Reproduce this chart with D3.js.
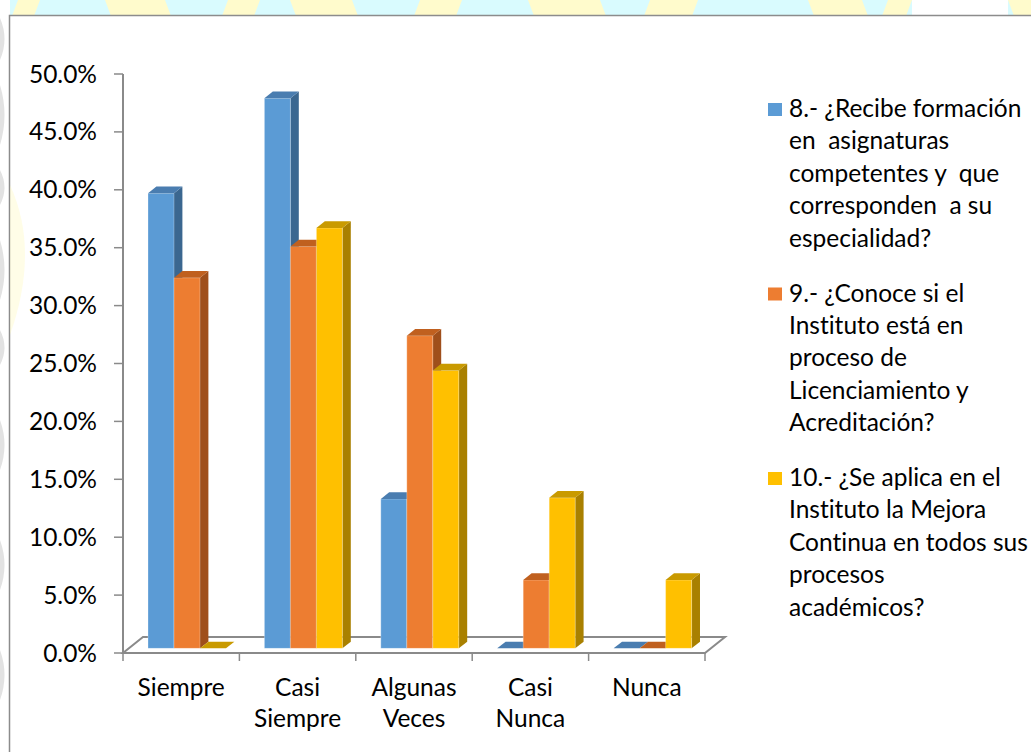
<!DOCTYPE html>
<html>
<head>
<meta charset="utf-8">
<script src="https://cdn.jsdelivr.net/npm/d3@7"></script>
<style>
  html, body { margin: 0; padding: 0; background: #ffffff; }
  svg { display: block; }
  text { font-family: Lato, "Open Sans", sans-serif; fill: #000; white-space: pre;
         font-variant-ligatures: none; font-feature-settings: "liga" 0, "clig" 0; }
</style>
</head>
<body>
<svg id="chart" width="1031" height="752"></svg>
<script>
// ---- data ----
const categories = ["Siempre", "Casi Siempre", "Algunas Veces", "Casi Nunca", "Nunca"];
const categoryLines = [["Siempre"], ["Casi", "Siempre"], ["Algunas", "Veces"], ["Casi", "Nunca"], ["Nunca"]];

const q8Values  = [0.393, 0.475, 0.129, 0.000, 0.000];
const q9Values  = [0.320, 0.347, 0.270, 0.059, 0.000];
const q10Values = [0.000, 0.363, 0.240, 0.130, 0.059];

const q8Lines  = ["8.- ¿Recibe formación", "en  asignaturas", "competentes y  que", "corresponden  a su", "especialidad?"];
const q9Lines  = ["9.- ¿Conoce si el", "Instituto está en", "proceso de", "Licenciamiento y", "Acreditación?"];
const q10Lines = ["10.- ¿Se aplica en el", "Instituto la Mejora", "Continua en todos sus", "procesos", "académicos?"];

const yTicks = [0, 0.05, 0.10, 0.15, 0.20, 0.25, 0.30, 0.35, 0.40, 0.45, 0.50];

const series = [
  { lines: q8Lines,  values: q8Values,  front: "#5b9bd5", top: "#4a7db0", side: "#3b6790" },
  { lines: q9Lines,  values: q9Values,  front: "#ed7d31", top: "#c0601f", side: "#9f4f1b" },
  { lines: q10Lines, values: q10Values, front: "#ffc000", top: "#c99a00", side: "#a98000" }
];

// ---- layout ----
const svg = d3.select("#chart");
const W = 1031, H = 752;
const frameX = 9.5, frameY = 15.5;

// decorative page backdrop around the chart frame
const bg = svg.append("g");
bg.append("rect").attr("x", 0).attr("y", 0).attr("width", W).attr("height", 16).attr("fill", "#d9fbfe");
const yellowBands = [[18, 40], [105, 165], [228, 260], [290, 352], [420, 462], [528, 600], [650, 698], [808, 862], [888, 912], [1008, 1031]];
yellowBands.forEach(([a, b], i) => {
  const s = i % 2 ? 6 : -6;
  bg.append("path")
    .attr("d", `M${a},0 L${b},0 L${b + s},16 L${a + s},16 Z`)
    .attr("fill", "#fffbcc");
});
bg.append("rect").attr("x", 912).attr("y", 0).attr("width", 96).attr("height", 16).attr("fill", "#ffffff");
bg.append("rect").attr("x", 0).attr("y", 0).attr("width", 10).attr("height", H).attr("fill", "#ffffff");
[[18, 60], [85, 145], [170, 205], [240, 300], [330, 365], [420, 470], [540, 590], [650, 700]].forEach(([a, b]) => {
  bg.append("path")
    .attr("d", `M0,${a} Q9,${(a + b) / 2} 0,${b} Z`)
    .attr("fill", "#e2e2e2");
});

// chart frame
svg.append("rect")
  .attr("x", frameX).attr("y", frameY)
  .attr("width", W + 20).attr("height", H + 20)
  .attr("fill", "#ffffff")
  .attr("stroke", "#8c8c8c").attr("stroke-width", 1.5);

// faint tint inside the frame, left edge
svg.append("path")
  .attr("d", "M10,185 Q40,250 10,335 Z")
  .attr("fill", "#fff7b0").attr("opacity", 0.3);

// ---- scales ----
const x = d3.scaleBand().domain(categories).range([123, 705]).paddingInner(0).paddingOuter(0);
const y = d3.scaleLinear().domain([0, 0.5]).range([653, 74]);

// oblique depth projection: z = 0 front of the floor, z = 1 back
const DX = 20, DY = 16;
const P = (px, py, z) => [px + z * DX, py - z * DY];
const poly = pts => "M" + pts.map(p => p.join(",")).join("L") + "Z";

const axisColor = "#8a8a8a";

// floor
const x0 = x.range()[0], x1 = x.range()[1], y0 = y(0);
svg.append("path")
  .attr("d", poly([P(x0, y0, 0), P(x1, y0, 0), P(x1, y0, 1), P(x0, y0, 1)]))
  .attr("fill", "none").attr("stroke", axisColor).attr("stroke-width", 2)
  .attr("stroke-linejoin", "miter");

// value axis
const yAxis = svg.append("g");
yAxis.append("line")
  .attr("x1", x0).attr("x2", x0).attr("y1", y(0.5)).attr("y2", y0)
  .attr("stroke", axisColor).attr("stroke-width", 2);
yAxis.selectAll("line.tick").data(yTicks).enter().append("line")
  .attr("class", "tick")
  .attr("x1", x0 - 9).attr("x2", x0).attr("y1", d => y(d)).attr("y2", d => y(d))
  .attr("stroke", axisColor).attr("stroke-width", 1.5);
const fmt = d3.format(".1%");
yAxis.selectAll("text").data(yTicks).enter().append("text")
  .attr("x", 97).attr("y", d => y(d) + 8.5)
  .attr("text-anchor", "end")
  .attr("font-size", 24.5)
  .text(d => fmt(d));

// category axis ticks
const bounds = categories.map(c => x(c)).concat([x1]);
svg.append("g").selectAll("line").data(bounds).enter().append("line")
  .attr("x1", d => d).attr("x2", d => d).attr("y1", y0).attr("y2", y0 + 8)
  .attr("stroke", axisColor).attr("stroke-width", 1.5);

// category labels
const catG = svg.append("g");
categories.forEach((c, i) => {
  const cx = x(c) + x.bandwidth() / 2;
  categoryLines[i].forEach((ln, k) => {
    catG.append("text")
      .attr("x", cx).attr("y", 696 + k * 31)
      .attr("text-anchor", "middle")
      .attr("font-size", 24.5)
      .text(ln);
  });
});

// ---- bars ----
const groupFrac = 0.67;
const barW = x.bandwidth() * groupFrac / series.length;
const zF = 0.29, zB = 0.71;
const barsG = svg.append("g");
categories.forEach((c, i) => {
  const gx = x(c) + (x.bandwidth() - barW * series.length) / 2;
  series.forEach((s, j) => {
    const v = s.values[i];
    const bx0 = gx + j * barW, bx1 = bx0 + barW;
    const yt = y(v), yb = y(0);
    const g = barsG.append("g");
    if (v > 0) {
      g.append("path")
        .attr("d", poly([P(bx1, yt, zF), P(bx1, yt, zB), P(bx1, yb, zB), P(bx1, yb, zF)]))
        .attr("fill", s.side);
      g.append("path")
        .attr("d", poly([P(bx0, yt, zF), P(bx1, yt, zF), P(bx1, yb, zF), P(bx0, yb, zF)]))
        .attr("fill", s.front)
        .attr("stroke", "rgba(255,255,255,0.35)").attr("stroke-width", 0.8);
    }
    g.append("path")
      .attr("d", poly([P(bx0, yt, zF), P(bx1, yt, zF), P(bx1, yt, zB), P(bx0, yt, zB)]))
      .attr("fill", s.top);
  });
});

// ---- legend ----
const legG = svg.append("g");
const lineH = 32.4;
let base = 117;
series.forEach(s => {
  legG.append("rect")
    .attr("x", 768).attr("y", base - 14).attr("width", 14).attr("height", 13)
    .attr("fill", s.front);
  s.lines.forEach((ln, k) => {
    legG.append("text")
      .attr("x", 789).attr("y", base + k * lineH)
      .attr("font-size", 24.5)
      .text(ln);
  });
  base += s.lines.length * lineH + 22.5;
});
</script>
</body>
</html>
